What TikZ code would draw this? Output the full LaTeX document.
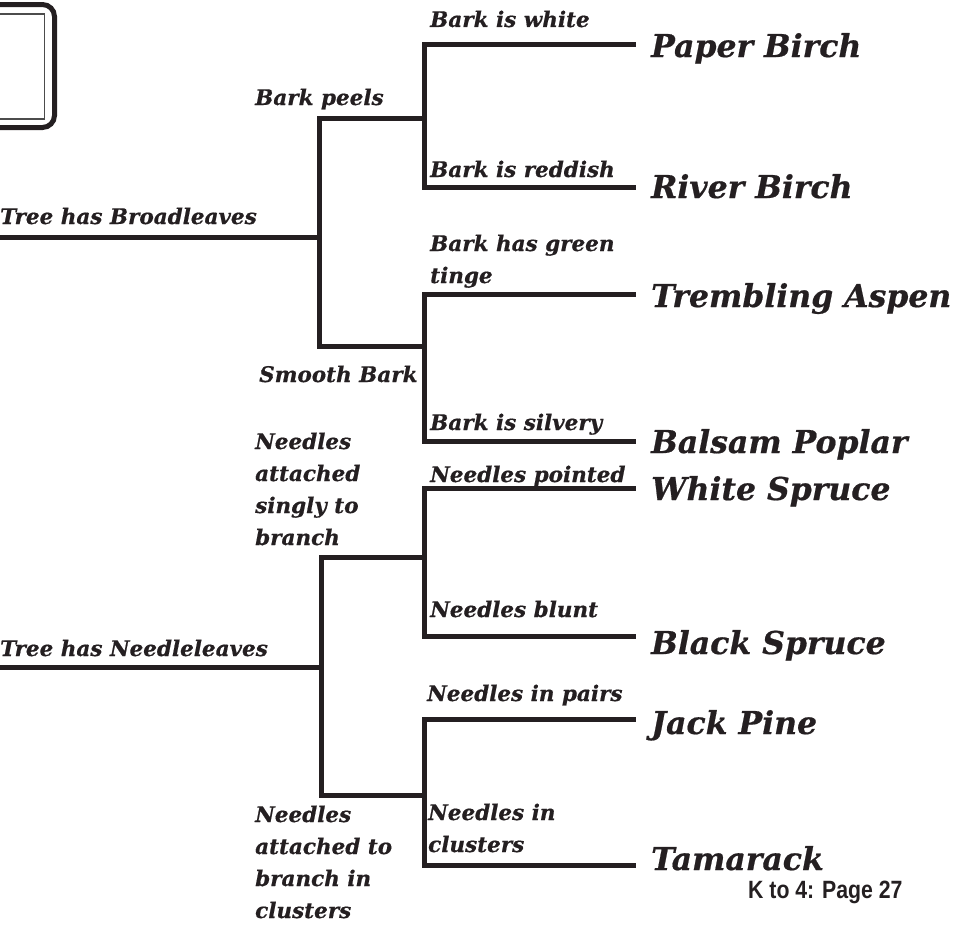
\documentclass[tikz,border=0pt]{standalone}
\usepackage{fontspec}
\setmainfont{DejaVu Serif}
\newfontfamily\cuefont{DejaVu Serif}[BoldItalicFont={DejaVu Serif Bold Italic},
  BoldItalicFeatures={FakeBold=0.6}]
\newfontfamily\pagefont{Liberation Sans}[FakeStretch=0.85]
\begin{document}
\definecolor{ink}{rgb}{0.14,0.12,0.13}
\tikzset{
  branch/.style={draw=ink, line width=5pt, line join=miter, line cap=rect},
  cue/.style={anchor=base west, inner sep=0pt, align=left, text=ink,
    font=\cuefont\fontsize{21.5}{32}\selectfont\bfseries\itshape},
  species/.style={anchor=base west, inner sep=0pt, text=ink,
    font=\cuefont\fontsize{31.5}{40}\selectfont\bfseries\itshape},
  pagelabel/.style={anchor=base west, inner sep=0pt, text=ink,
    font=\pagefont\fontsize{25}{28}\selectfont\bfseries}
}
\begin{tikzpicture}[x=1pt, y=-1pt]
\useasboundingbox (0,0) rectangle (960,926);

% frame at the upper left
\draw[ink, line width=5pt, rounded corners=12pt] (-30,4.5) rectangle (54.5,127.5);
\draw[black!70, line width=1.6pt] (-30,14) rectangle (44.5,119);

% junctions of the broadleaf half
\coordinate (bl0) at (-5,237);
\coordinate (bl1) at (319,237);
\coordinate (bltop) at (319,118);
\coordinate (blbot) at (319,346);
\coordinate (peel) at (424,118);
\coordinate (smooth) at (424,346);
\coordinate (pb) at (424,44);   \coordinate (pbE) at (633,44);
\coordinate (rb) at (424,187);  \coordinate (rbE) at (633,187);
\coordinate (ta) at (424,294);  \coordinate (taE) at (633,294);
\coordinate (bp) at (424,441);  \coordinate (bpE) at (633,441);

% junctions of the needleleaf half
\coordinate (nl0) at (-5,667);
\coordinate (nl1) at (321,667);
\coordinate (nltop) at (321,557);
\coordinate (nlbot) at (321,795);
\coordinate (single) at (424,557);
\coordinate (cluster) at (424,795);
\coordinate (ws) at (424,488);  \coordinate (wsE) at (633,488);
\coordinate (bs) at (424,636);  \coordinate (bsE) at (633,636);
\coordinate (jp) at (424,719);  \coordinate (jpE) at (633,719);
\coordinate (tm) at (424,865);  \coordinate (tmE) at (633,865);

% key branches
\draw[branch] (bl0) -- (bl1);
\draw[branch] (peel) -- (bltop) -- (blbot) -- (smooth);
\draw[branch] (pbE) -- (pb) -- (rb) -- (rbE);
\draw[branch] (taE) -- (ta) -- (bp) -- (bpE);
\draw[branch] (nl0) -- (nl1);
\draw[branch] (single) -- (nltop) -- (nlbot) -- (cluster);
\draw[branch] (wsE) -- (ws) -- (bs) -- (bsE);
\draw[branch] (jpE) -- (jp) -- (tm) -- (tmE);

% cues (multi-line cues are placed by the baseline of their last line)
\node[cue] (cBroad) at (0,224) {Tree has Broadleaves};
\node[cue] (cPeel) at (255,105) {Bark peels};
\node[cue] (cSmooth) at (259,382) {Smooth Bark};
\node[cue] (cWhite) at (430,27) {Bark is white};
\node[cue] (cRed) at (430,177) {Bark is reddish};
\node[cue] (cGreen) at (430,283) {Bark has green\\tinge};
\node[cue] (cSilver) at (430,430) {Bark is silvery};
\node[cue] (cNeedle) at (0,656) {Tree has Needleleaves};
\node[cue] (cSingle) at (255,545) {Needles\\attached\\singly to\\branch};
\node[cue] (cClust) at (255,918) {Needles\\attached to\\branch in\\clusters};
\node[cue] (cPoint) at (430,482) {Needles pointed};
\node[cue] (cBlunt) at (430,617) {Needles blunt};
\node[cue] (cPairs) at (427,701) {Needles in pairs};
\node[cue] (cInClus) at (428,852) {Needles in\\clusters};

% species
\node[species] (sPaper) at (651,57) {Paper Birch};
\node[species] (sRiver) at (651,198) {River Birch};
\node[species] (sAspen) at (651,307) {Trembling Aspen};
\node[species] (sBalsam) at (651,453) {Balsam Poplar};
\node[species] (sWhite) at (651,500) {White Spruce};
\node[species] (sBlack) at (651,654) {Black Spruce};
\node[species] (sJack) at (651,734) {Jack Pine};
\node[species] (sTam) at (651,870) {Tamarack};

\node[pagelabel] (page) at (748,898) {K to 4: Page 27};
\end{tikzpicture}
\end{document}
